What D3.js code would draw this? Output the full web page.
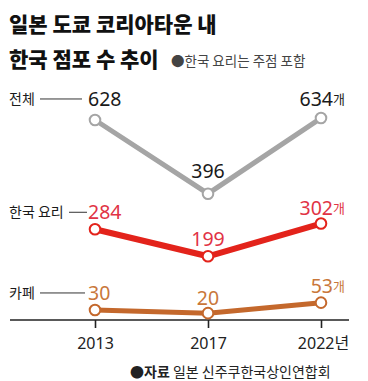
<!DOCTYPE html>
<html>
<head>
<meta charset="utf-8">
<script src="https://d3js.org/d3.v7.min.js"></script>
<style>
  body { margin: 0; background: #fff; }
  text { font-family: "Noto Sans CJK KR", "Noto Sans", sans-serif; }
  text.num { font-family: "Noto Sans", "Noto Sans CJK KR", sans-serif; }
  .tick text { font-family: "Noto Sans", "Noto Sans CJK KR", sans-serif; }
</style>
</head>
<body>
<div id="chart"></div>
<script>
  // data
  const years = ["2013", "2017", "2022"];
  const totalStores = [628, 396, 634];
  const koreanFood = [284, 199, 302];
  const cafes = [30, 20, 53];
  const seriesNames = ["전체", "한국 요리", "카페"];

  const W = 368, H = 381;

  const svg = d3.select("#chart").append("svg")
    .attr("width", W).attr("height", H);

  svg.append("rect").attr("width", W).attr("height", H).attr("fill", "#fff");

  // titles
  svg.append("text").attr("x", 9).attr("y", 32)
    .attr("font-size", 21).attr("font-weight", 900).attr("fill", "#111")
    .text("일본 도쿄 코리아타운 내");
  svg.append("text").attr("x", 9).attr("y", 67)
    .attr("font-size", 21).attr("font-weight", 900).attr("fill", "#111")
    .text("한국 점포 수 추이");
  svg.append("text").attr("x", 171).attr("y", 66)
    .attr("font-size", 13.5).attr("fill", "#444")
    .text("●한국 요리는 주점 포함");

  const x = d3.scalePoint().domain(years).range([95, 321]);
  const y = d3.scaleLinear().domain([0, 700]).range([319.5, 97.1]);

  // axis
  const axis = svg.append("g").attr("transform", "translate(0,320)")
    .call(d3.axisBottom(x).tickSize(8).tickFormat(d => d === "2022" ? "2022년" : d));
  axis.select(".domain").attr("d", "M10,0H349").attr("stroke", "#222").attr("stroke-width", 1.3);
  axis.selectAll(".tick line").attr("stroke", "#222").attr("stroke-width", 1.6);
  axis.selectAll(".tick text").attr("font-size", 16).attr("fill", "#222")
    .attr("dy", 0).attr("y", 29);
  axis.selectAll(".tick text").filter(d => d === "2022").attr("dx", 2);

  const series = [
    { name: seriesNames[0], values: totalStores, line: "#a5a5a5", text: "#1a1a1a", width: 5, off: [-14, -16, -12], nameLine: [40, 82] },
    { name: seriesNames[1], values: koreanFood, line: "#e3231b", text: "#e13345", width: 6, off: [-10, -10, -9], nameLine: [69, 87] },
    { name: seriesNames[2], values: cafes, line: "#c4682c", text: "#c9773a", width: 5, off: [-10, -8, -10], nameLine: [40, 85] }
  ];

  const line = d3.line().x((d, i) => x(years[i])).y(d => y(d));

  series.forEach(s => {
    const g = svg.append("g");
    g.append("path").datum(s.values)
      .attr("fill", "none").attr("stroke", s.line)
      .attr("stroke-width", s.width).attr("d", line);

    g.selectAll("circle").data(s.values).join("circle")
      .attr("cx", (d, i) => x(years[i])).attr("cy", d => y(d))
      .attr("r", 5.3).attr("fill", "#fff")
      .attr("stroke", s.line).attr("stroke-width", 2);

    // value labels
    s.values.forEach((v, i) => {
      const px = x(years[i]);
      const py = y(v) + s.off[i];
      const t = g.append("text").attr("class", "num").attr("y", py)
        .attr("font-size", 19.5).attr("fill", s.text);
      if (i === 0) {
        t.attr("x", px - 7).attr("text-anchor", "start").text(v);
      } else if (i === 1) {
        t.attr("x", px).attr("text-anchor", "middle").text(v);
      } else {
        t.attr("x", px + 24).attr("text-anchor", "end").text(v);
        t.append("tspan").attr("font-size", 13)
          .style("font-family", "'Noto Sans CJK KR', sans-serif")
          .attr("dy", -2).text("개");
      }
    });

    // series name + leader line
    const ny = y(s.values[0]) + s.off[0] - 7;
    g.append("text").attr("x", 9).attr("y", ny + 5)
      .attr("font-size", 14).attr("fill", "#1a1a1a").text(s.name);
    g.append("line")
      .attr("x1", s.nameLine[0]).attr("x2", s.nameLine[1])
      .attr("y1", ny).attr("y2", ny)
      .attr("stroke", "#333").attr("stroke-width", 1);
  });

  // source
  const src = svg.append("text").attr("x", 130).attr("y", 377)
    .attr("font-size", 14).attr("fill", "#222");
  src.append("tspan").attr("font-weight", 700).text("●자료");
  src.append("tspan").text(" 일본 신주쿠한국상인연합회");
</script>
</body>
</html>
